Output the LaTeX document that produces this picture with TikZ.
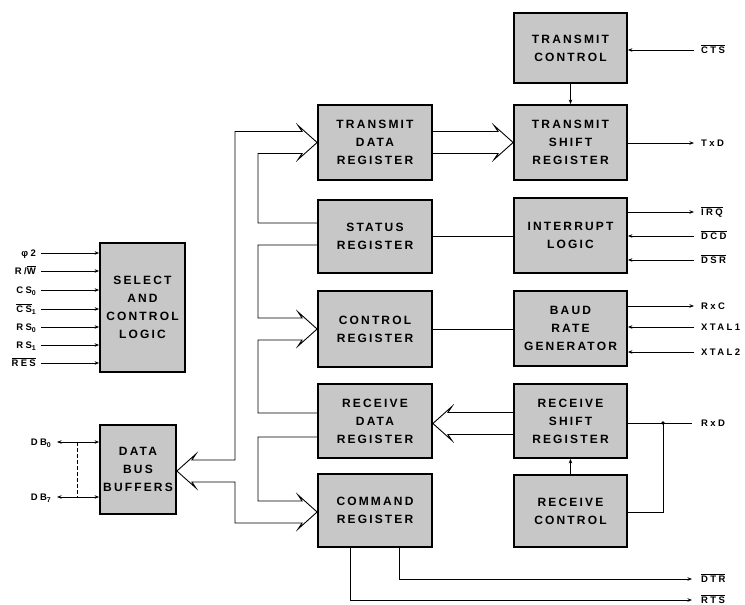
\documentclass[tikz,border=0pt]{standalone}
\usepackage{fontspec}
\setmainfont{Liberation Sans}
\newfontfamily\boxfont{Liberation Sans}[LetterSpace=18]
\newfontfamily\lblfont{Liberation Sans}[LetterSpace=25]
\usetikzlibrary{arrows.meta,calc}
\newcommand\ovl[1]{$\overline{\mbox{#1}}$}
\newcommand\mysub[1]{\raisebox{-0.5ex}{\fontsize{7}{7}\selectfont #1}}
\begin{document}
\begin{tikzpicture}[x=1pt,y=-1pt,
  blk/.style={draw=black, line width=1.8pt, fill=black!22, align=center, inner sep=0pt,
    font=\boxfont\bfseries\fontsize{12}{18}\selectfont, text=black},
  wide/.style={blk, minimum width=114pt},
  wire/.style={line width=0.9pt},
  bus/.style={line width=0.9pt, line join=miter},
  lbl/.style={font=\lblfont\bfseries\fontsize{9.5}{10}\selectfont, inner sep=0pt, text height=6.8pt, text depth=0pt},
  >={Stealth[length=4.5pt,width=3.5pt]}]

\useasboundingbox (0,0) rectangle (745,605);

% ---- blocks
\node[blk, minimum width=85pt, minimum height=129pt] (scl) at (142.5,307.5) {SELECT\\AND\\CONTROL\\LOGIC};
\node[blk, minimum width=76pt, minimum height=89pt] (dbb) at (138,469.5) {DATA\\BUS\\BUFFERS};
\node[wide, minimum height=75pt] (tdr) at (375,142.5) {TRANSMIT\\DATA\\REGISTER};
\node[wide, minimum height=73pt] (sr)  at (375,236.5) {STATUS\\REGISTER};
\node[wide, minimum height=76pt] (cr)  at (375,329) {CONTROL\\REGISTER};
\node[wide, minimum height=74pt] (rdr) at (375,421) {RECEIVE\\DATA\\REGISTER};
\node[wide, minimum height=73pt] (cmd) at (375,510.5) {COMMAND\\REGISTER};
\node[blk, minimum width=113pt, minimum height=70pt] (tc)  at (570.5,48) {TRANSMIT\\CONTROL};
\node[blk, minimum width=113pt, minimum height=75pt] (tsr) at (570.5,142.5) {TRANSMIT\\SHIFT\\REGISTER};
\node[blk, minimum width=113pt, minimum height=75pt] (il)  at (570.5,235.5) {INTERRUPT\\LOGIC};
\node[blk, minimum width=113pt, minimum height=75pt] (brg) at (570.5,328.5) {BAUD\\RATE\\GENERATOR};
\node[blk, minimum width=113pt, minimum height=74pt] (rsr) at (570.5,421) {RECEIVE\\SHIFT\\REGISTER};
\node[blk, minimum width=113pt, minimum height=72pt] (rc)  at (570.5,511) {RECEIVE\\CONTROL};

% ---- wide (bus) arrows
\coordinate (tdbb) at ($(dbb.east)+(0,1.5)$);
\coordinate (tcmd) at ($(cmd.west)+(0,1.5)$);
\coordinate (trdr) at ($(rdr.east)+(0,2.5)$);
\draw[bus] ($(sr.west)+(0,-13.5)$) -- (258,223) -- (258,153.5) -- ($(tdr.west)+(-15,11)$) -- ++(-4,6) -- (tdr.west)
  -- ++(-19,-17) -- ++(4,6) -- (235,131.5) -- (235,460) -- ($(tdbb)+(15,-11)$) -- ++(4,-6) -- (tdbb)
  -- ++(19,17) -- ++(-4,-6) -- (235,482) -- (235,523) -- ($(tcmd)+(-15,11)$) -- ++(-4,6) -- (tcmd)
  -- ++(-19,-17) -- ++(4,6) -- (258,501) -- (258,437) -- ($(rdr.west)+(0,16)$);
\draw[bus] ($(sr.west)+(0,8.5)$) -- (258,245) -- (258,318) -- ($(cr.west)+(-15,-11)$) -- ++(-4,-6) -- (cr.west)
  -- ++(-19,17) -- ++(4,-6) -- (258,340) -- (258,413) -- ($(rdr.west)+(0,-8)$);
\draw[bus] ($(tdr.east)+(0,-11)$) -- ($(tsr.west)+(-15,-11)$) -- ++(-4,-6) -- (tsr.west)
  -- ++(-19,17) -- ++(4,-6) -- ($(tdr.east)+(0,11)$);
\draw[bus] ($(rsr.west)+(0,-8.5)$) -- ($(trdr)+(15,-11)$) -- ++(4,-6) -- (trdr)
  -- ++(19,17) -- ++(-4,-6) -- ($(rsr.west)+(0,13.5)$);

% ---- internal single lines
\draw[wire] (sr.east) -- (sr.east -| il.west);
\draw[wire] (cr.east) -- (cr.east -| brg.west);
\draw[wire,->] (tc.south) -- (tsr.north);
\draw[wire,->] (rc.north) -- (rsr.south);

% ---- left signals
\foreach \n/\y/\t in {phi/253/{φ2}, rw/271/{R/\ovl{W}}, cs0/290/{CS\mysub{0}}, cs1/309/{\ovl{CS}\mysub{1}},
   rs0/327/{RS\mysub{0}}, rs1/345/{RS\mysub{1}}, res/363/{\ovl{RES}}}{
  \node[lbl, anchor=east] (\n) at (36,\y) {\t};
  \draw[wire,->] ($(\n.east |- \n)+(5,0)$) -- (\n -| scl.west);
}
\node[lbl, anchor=east] (db0) at (51,442) {DB\mysub{0}};
\node[lbl, anchor=east] (db7) at (51,497) {DB\mysub{7}};
\draw[wire,<->] ($(db0.east |- db0)+(6,0)$) -- (db0 -| dbb.west);
\draw[wire,<->] ($(db7.east |- db7)+(6,0)$) -- (db7 -| dbb.west);
\draw[wire, dash pattern=on 3.5pt off 2.5pt] (77,442) -- (77,497);

% ---- right signals
\node[lbl, anchor=west] (cts) at (701,50) {\ovl{CTS}};
\node[lbl, anchor=west] (txd) at (701,143) {TxD};
\node[lbl, anchor=west] (irq) at (701,212) {\ovl{IRQ}};
\node[lbl, anchor=west] (dcd) at (701,236) {\ovl{DCD}};
\node[lbl, anchor=west] (dsr) at (701,260) {\ovl{DSR}};
\node[lbl, anchor=west] (rxc) at (701,306) {RxC};
\node[lbl, anchor=west] (xt1) at (701,327) {XTAL1};
\node[lbl, anchor=west] (xt2) at (701,352) {XTAL2};
\node[lbl, anchor=west] (rxd) at (701,423) {RxD};
\node[lbl, anchor=west] (dtr) at (701,579) {\ovl{DTR}};
\node[lbl, anchor=west] (rts) at (701,600) {\ovl{RTS}};

\draw[wire,->] ($(cts.west)+(-7,0)$) -- (cts -| tc.east);
\draw[wire,->] (txd -| tsr.east) -- ($(txd.west)+(-7,0)$);
\draw[wire,->] (irq -| il.east) -- ($(irq.west)+(-7,0)$);
\draw[wire,->] ($(dcd.west)+(-7,0)$) -- (dcd -| il.east);
\draw[wire,->] ($(dsr.west)+(-7,0)$) -- (dsr -| il.east);
\draw[wire,->] (rxc -| brg.east) -- ($(rxc.west)+(-7,0)$);
\draw[wire,->] ($(xt1.west)+(-7,0)$) -- (xt1 -| brg.east);
\draw[wire,->] ($(xt2.west)+(-7,0)$) -- (xt2 -| brg.east);

\coordinate (jn) at (663,423);
\draw[wire] ($(rxd.west)+(-9,0)$) -- (rxd -| rsr.east);
\draw[wire] (jn) |- ($(rc.east)+(0,1)$);
\fill (jn) circle (1.8pt);

\coordinate (dtrx) at ($(cmd.south east)+(-33,0)$);
\coordinate (rtsx) at ($(cmd.south west)+(33,0)$);
\draw[wire,->] (dtrx) |- ($(dtr.west)+(-9,0)$);
\draw[wire,->] (rtsx) |- ($(rts.west)+(-9,0)$);
\end{tikzpicture}
\end{document}
